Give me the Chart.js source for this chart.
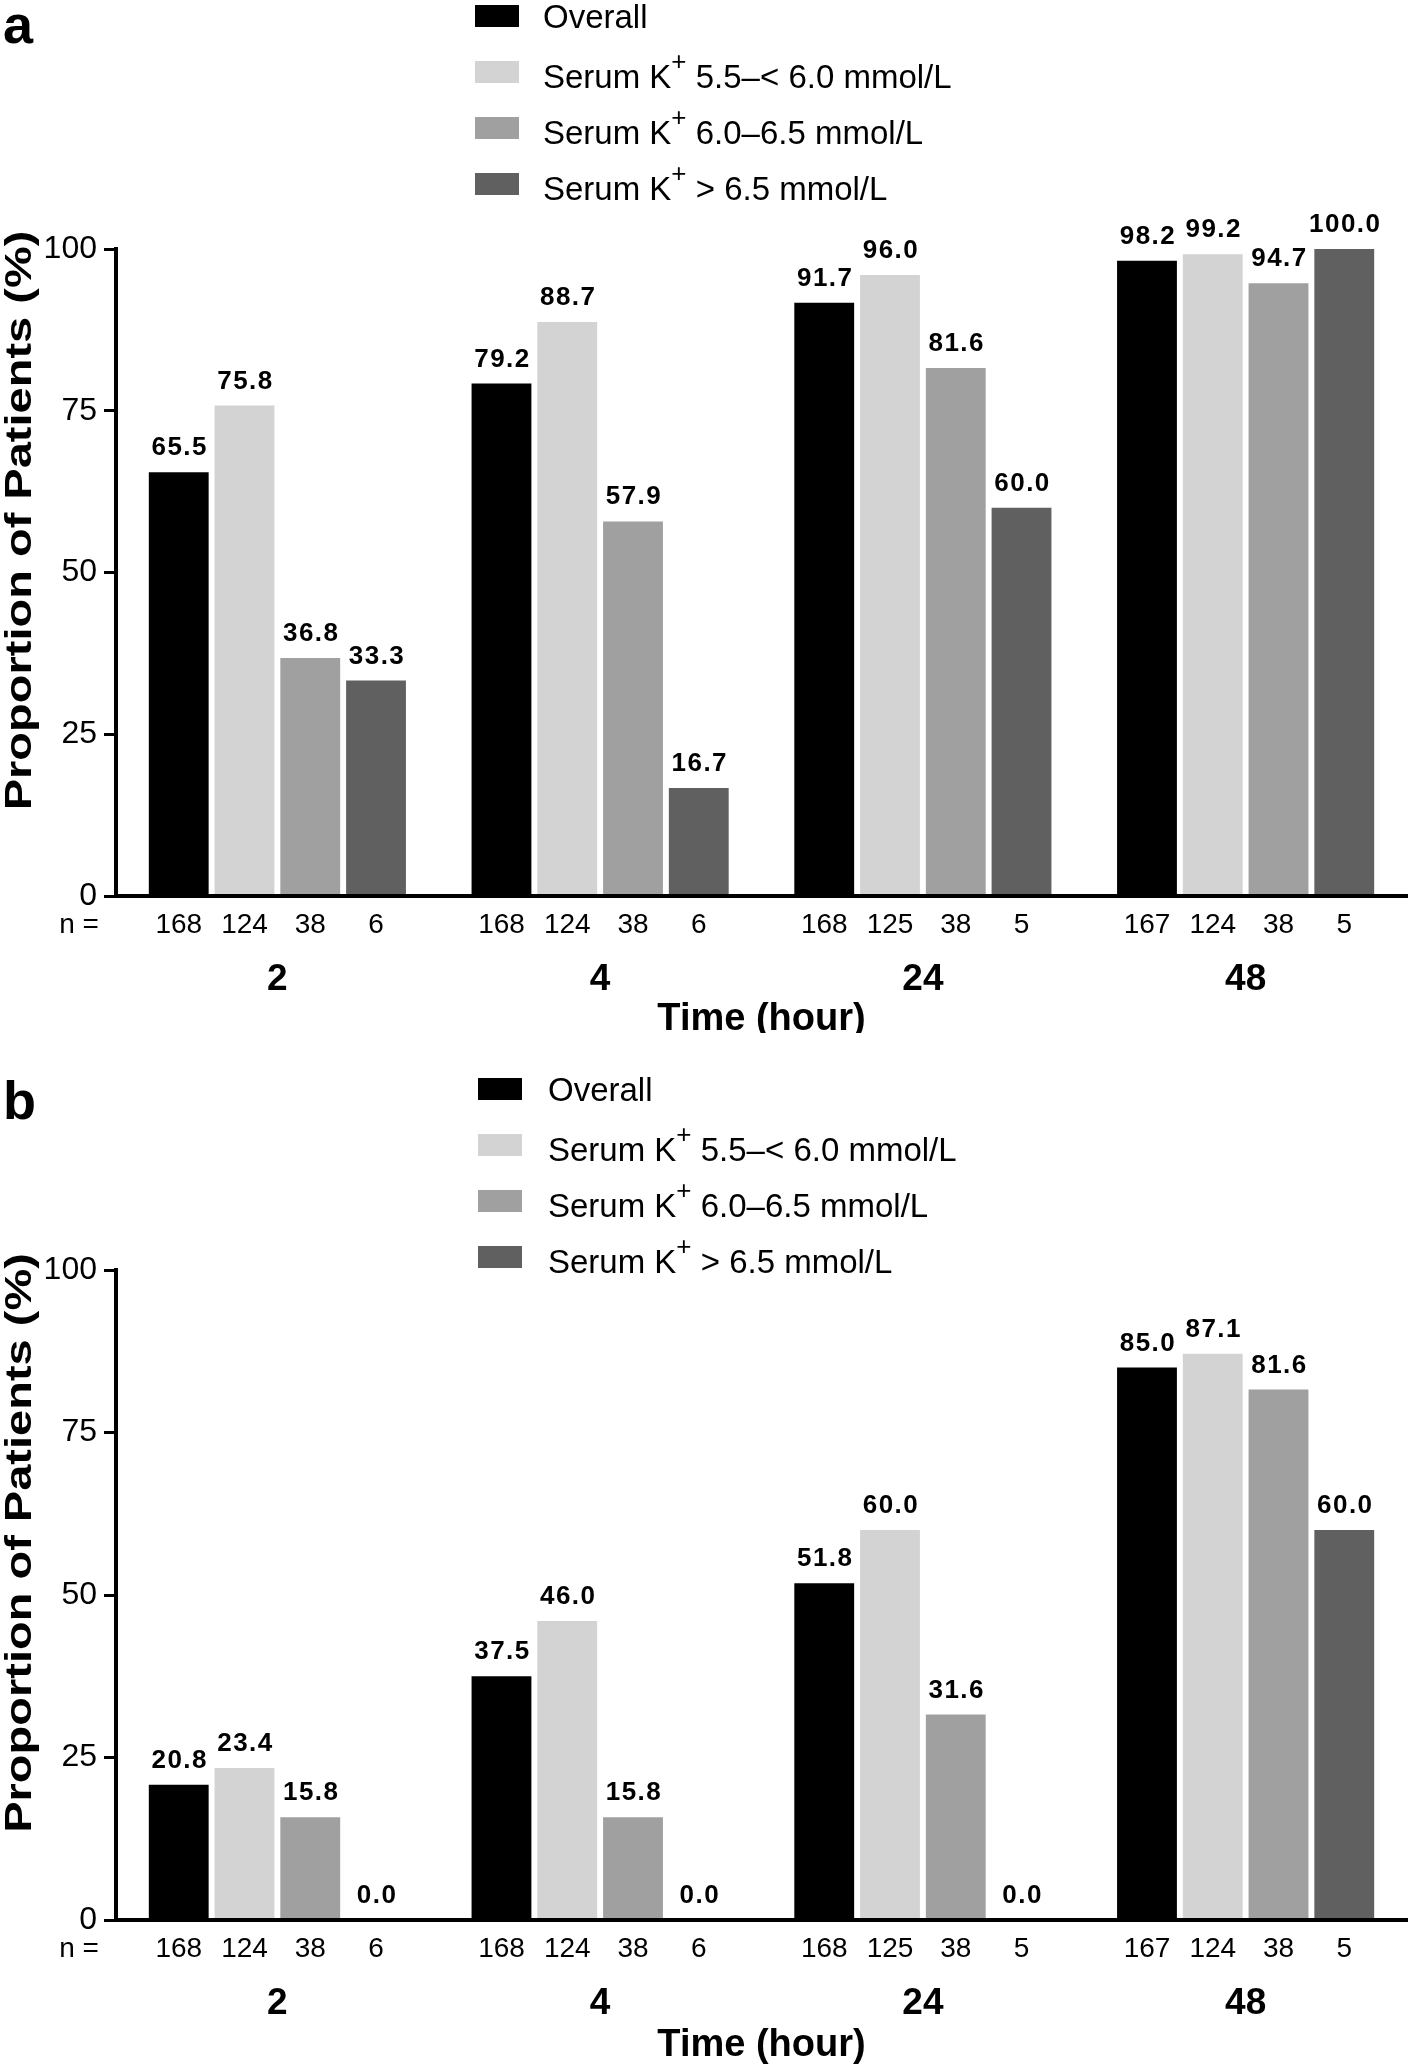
<!DOCTYPE html>
<html>
<head>
<meta charset="utf-8">
<script src="https://cdn.jsdelivr.net/npm/chart.js@4.4.1/dist/chart.umd.min.js"></script>
<style>
  body { margin: 0; background: #fff; }
  canvas { display: block; }
</style>
</head>
<body>
<canvas id="chartA" width="1418" height="1033"></canvas>
<canvas id="chartB" width="1418" height="1033"></canvas>
<script>
// categories and tick labels
const hours = ['2', '4', '24', '48'];
const groupNames = ['Overall', 'Serum K+ 5.5–< 6.0 mmol/L', 'Serum K+ 6.0–6.5 mmol/L', 'Serum K+ > 6.5 mmol/L'];
const yTicks = [0, 25, 50, 75, 100];

// panel a values (%)
const overallA = [65.5, 79.2, 91.7, 98.2];
const lowA = [75.8, 88.7, 96.0, 99.2];
const midA = [36.8, 57.9, 81.6, 94.7];
const highA = [33.3, 16.7, 60.0, 100.0];

// panel b values (%)
const overallB = [20.8, 37.5, 51.8, 85.0];
const lowB = [23.4, 46.0, 60.0, 87.1];
const midB = [15.8, 15.8, 31.6, 81.6];
const highB = [0.0, 0.0, 0.0, 60.0];

// patients per bar
const nOverall = [168, 168, 168, 167];
const nLow = [124, 124, 125, 124];
const nMid = [38, 38, 38, 38];
const nHigh = [6, 6, 5, 5];

const colors = ['#000000', '#d3d3d3', '#a0a0a0', '#606060'];
const FONT = '"Liberation Sans", Arial, sans-serif';

const extras = {
  id: 'extras',
  afterDraw(chart, args, o) {
    const ctx = chart.ctx;
    const area = chart.chartArea;
    const nRows = [nOverall, nLow, nMid, nHigh];
    ctx.save();

    // value labels above bars
    ctx.font = 'bold 26px ' + FONT;
    ctx.letterSpacing = '1.5px';
    ctx.textAlign = 'center';
    ctx.textBaseline = 'alphabetic';
    ctx.fillStyle = '#000';
    chart.data.datasets.forEach((ds, i) => {
      chart.getDatasetMeta(i).data.forEach((bar, j) => {
        ctx.fillText(ds.data[j].toFixed(1), bar.x + 1, bar.y - 17);
      });
    });
    ctx.letterSpacing = '0px';

    // n row
    ctx.font = '28px ' + FONT;
    ctx.textBaseline = 'middle';
    ctx.fillText('n =', 79, area.bottom + 29);
    chart.data.datasets.forEach((ds, i) => {
      chart.getDatasetMeta(i).data.forEach((bar, j) => {
        ctx.fillText(String(nRows[i][j]), bar.x, area.bottom + 29);
      });
    });

    // y axis title (condensed across its height)
    ctx.save();
    ctx.translate(21, (area.top + area.bottom) / 2 - 52);
    ctx.rotate(-Math.PI / 2);
    ctx.scale(1, 0.78);
    ctx.font = 'bold 47px ' + FONT;
    ctx.fillText('Proportion of Patients (%)', 0, 0);
    ctx.restore();

    // panel letter
    ctx.textAlign = 'left';
    ctx.textBaseline = 'alphabetic';
    ctx.font = 'bold 54px ' + FONT;
    ctx.fillText(o.letter, 3, o.letterY);

    // legend
    groupNames.forEach((name, i) => {
      const y = o.legendY + i * 56;
      ctx.fillStyle = colors[i];
      ctx.fillRect(o.boxX, y - 11, 44, 22);
      ctx.fillStyle = '#000';
      ctx.font = '33px ' + FONT;
      let x = o.legendTextX;
      const k = name.indexOf('K+');
      if (k < 0) {
        ctx.fillText(name, x, y + 12);
      } else {
        const base = y + 16;
        const head = name.slice(0, k + 1);
        ctx.fillText(head, x, base);
        x += ctx.measureText(head).width;
        ctx.font = '26px ' + FONT;
        ctx.fillText('+', x, base - 18);
        x += ctx.measureText('+').width;
        ctx.font = '33px ' + FONT;
        ctx.fillText(name.slice(k + 2), x, base);
      }
    });
    ctx.restore();
  }
};

function makeChart(id, values, cfg) {
  return new Chart(document.getElementById(id), {
    type: 'bar',
    data: {
      labels: hours,
      datasets: values.map((v, i) => ({
        label: groupNames[i],
        data: v,
        backgroundColor: colors[i],
        categoryPercentage: 0.815,
        barPercentage: 0.91
      }))
    },
    options: {
      responsive: false,
      animation: false,
      devicePixelRatio: 1,
      layout: { padding: { top: cfg.top, right: 11, left: 0, bottom: 0 } },
      plugins: {
        legend: { display: false },
        tooltip: { enabled: false },
        extras: cfg
      },
      scales: {
        x: {
          offset: true,
          grid: { display: false, drawTicks: false },
          border: { display: true, color: '#000', width: 4, z: 1 },
          ticks: { color: '#000', font: { family: FONT, size: 37, weight: 'bold' }, padding: 62 },
          title: {
            display: true, text: 'Time (hour)', color: '#000',
            font: { family: FONT, size: 38, weight: 'bold', lineHeight: 0.8 },
            padding: { top: 0, bottom: cfg.titlePad }
          },
          afterFit: s => { s.height = 1033 - cfg.bottom; }
        },
        y: {
          min: 0, max: 100,
          afterBuildTicks: s => { s.ticks = yTicks.map(v => ({ value: v })); },
          grid: { drawOnChartArea: false, drawTicks: true, tickLength: 12, color: '#000', lineWidth: 3 },
          border: { display: true, color: '#000', width: 4, z: 1 },
          ticks: { color: '#000', font: { family: FONT, size: 32 }, padding: 7 },
          afterFit: s => { s.width = 116; }
        }
      }
    },
    plugins: [extras]
  });
}

makeChart('chartA', [overallA, lowA, midA, highA],
  { top: 249, bottom: 896, titlePad: -2, letter: 'a', letterY: 43,
    legendY: 16, boxX: 475, legendTextX: 543 });
makeChart('chartB', [overallB, lowB, midB, highB],
  { top: 237, bottom: 887, titlePad: 5, letter: 'b', letterY: 86,
    legendY: 56, boxX: 478, legendTextX: 548 });
</script>
</body>
</html>
